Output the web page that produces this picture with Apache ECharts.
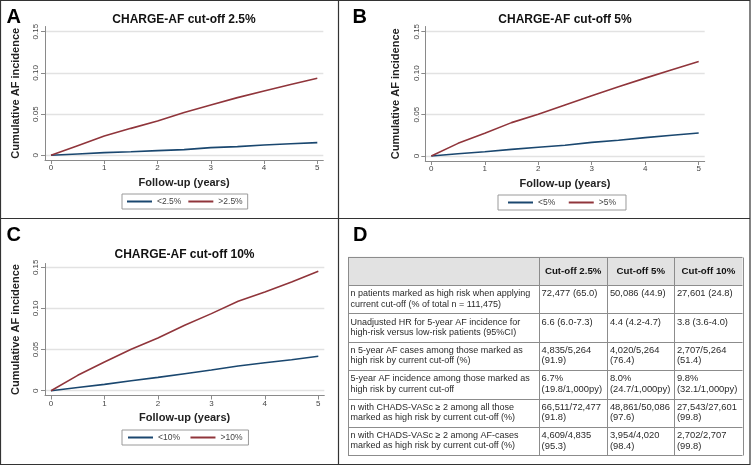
<!DOCTYPE html>
<html>
<head>
<meta charset="utf-8">
<script src="https://cdn.jsdelivr.net/npm/echarts@6/dist/echarts.min.js"></script>
<style>
html,body{margin:0;padding:0;background:#fff;}
#c{width:751px;height:467px;}
</style>
</head>
<body>
<div id="c"></div>
<script>
// ---------- DATA ----------
const followUp = [0, 0.5, 1, 1.5, 2, 2.5, 3, 3.5, 4, 4.5, 5];
const xTicks = [0, 1, 2, 3, 4, 5];
const yTicks = [0, 0.05, 0.10, 0.15];

const lowA  = [0, 0.0016, 0.0032, 0.0044, 0.0057, 0.0069, 0.0093, 0.0105, 0.0125, 0.0141, 0.0154];
const highA = [0, 0.0117, 0.0234, 0.0327, 0.0416, 0.0520, 0.0610, 0.0700, 0.0780, 0.0860, 0.0934];
const lowB  = [0, 0.0028, 0.0052, 0.0080, 0.0105, 0.0130, 0.0165, 0.0190, 0.0222, 0.0250, 0.0278];
const highB = [0, 0.0153, 0.0274, 0.0403, 0.0504, 0.0617, 0.0726, 0.0835, 0.0940, 0.1040, 0.1140];
const lowC  = [0, 0.0040, 0.0077, 0.0122, 0.0162, 0.0207, 0.0251, 0.0300, 0.0340, 0.0377, 0.0418];
const highC = [0, 0.0187, 0.0349, 0.0503, 0.0640, 0.0795, 0.0937, 0.1087, 0.1200, 0.1320, 0.1452];

const panelTitles = ['CHARGE-AF cut-off 2.5%', 'CHARGE-AF cut-off 5%', 'CHARGE-AF cut-off 10%'];
const lowNames  = ['<2.5%', '<5%', '<10%'];
const highNames = ['>2.5%', '>5%', '>10%'];
const panelLetters = ['A', 'B', 'C', 'D'];
const yTitle = 'Cumulative AF incidence';
const xTitle = 'Follow-up (years)';

const tableHeader = ['', 'Cut-off 2.5%', 'Cut-off 5%', 'Cut-off 10%'];
const rowLabels = [
  'n patients marked as high risk when applying\ncurrent cut-off (% of total n = 111,475)',
  'Unadjusted HR for 5-year AF incidence for\nhigh-risk versus low-risk patients (95%CI)',
  'n 5-year AF cases among those marked as\nhigh risk by current cut-off (%)',
  '5-year AF incidence among those marked as\nhigh risk by current cut-off',
  'n with CHADS-VASc \u2265 2 among all those\nmarked as high risk by current cut-off (%)',
  'n with CHADS-VASc \u2265 2 among AF-cases\nmarked as high risk by current cut-off (%)'
];
const colCut25 = ['72,477 (65.0)', '6.6 (6.0-7.3)', '4,835/5,264\n(91.9)', '6.7%\n(19.8/1,000py)', '66,511/72,477\n(91.8)', '4,609/4,835\n(95.3)'];
const colCut5  = ['50,086 (44.9)', '4.4 (4.2-4.7)', '4,020/5,264\n(76.4)', '8.0%\n(24.7/1,000py)', '48,861/50,086\n(97.6)', '3,954/4,020\n(98.4)'];
const colCut10 = ['27,601 (24.8)', '3.8 (3.6-4.0)', '2,707/5,264\n(51.4)', '9.8%\n(32.1/1,000py)', '27,543/27,601\n(99.8)', '2,702/2,707\n(99.8)'];

// ---------- LAYOUT ----------
const FONT = '"Liberation Sans", Arial, Helvetica, sans-serif';
const BLUE = '#1a476f', RED = '#90353b';
const grids = [
  {left: 45,    top: 26.5,  width: 278.3, height: 133.5, xmin: -0.1127, xmax: 5.1127, ymin: -0.0057, ymax: 0.1563},
  {left: 425.3, top: 26.5,  width: 279.4, height: 134.5, xmin: -0.1122, xmax: 5.1122, ymin: -0.0060, ymax: 0.1563},
  {left: 45,    top: 263.5, width: 279.3, height: 132,   xmin: -0.1122, xmax: 5.1122, ymin: -0.0058, ymax: 0.1546}
];
const legendPos = [
  {left: 122, top: 194, pad: 5, gap: 7},
  {left: 498, top: 195, pad: 10, gap: 13.5},
  {left: 122, top: 430, pad: 6, gap: 10.5}
];
const titlePos = [[184, 19.5], [565, 19.5], [184.5, 254.5]];
const letterPos = [[6.5, 17.5], [352.5, 17.5], [6.5, 235.5], [353, 235]];

const option = {
  animation: false,
  backgroundColor: '#fff',
  textStyle: {fontFamily: FONT},
  grid: [], xAxis: [], yAxis: [], series: [], legend: [], graphic: []
};

grids.forEach((g, i) => {
  option.grid.push({left: g.left, top: g.top, width: g.width, height: g.height, containLabel: false});
  option.xAxis.push({
    type: 'value', gridIndex: i, min: g.xmin, max: g.xmax,
    name: xTitle, nameLocation: 'middle', nameGap: 17,
    nameTextStyle: {fontSize: 11, fontWeight: 'bold', color: '#222', fontFamily: FONT, verticalAlign: 'top'},
    axisLine: {show: true, onZero: false, lineStyle: {color: '#8a8a8a', width: 1}},
    axisTick: {show: true, length: 4, customValues: xTicks, lineStyle: {color: '#8a8a8a'}},
    axisLabel: {show: true, customValues: xTicks, margin: 4, fontSize: 8, color: '#444', fontFamily: FONT},
    splitLine: {show: false}
  });
  option.yAxis.push({
    type: 'value', gridIndex: i, min: g.ymin, max: g.ymax,
    name: yTitle, nameLocation: 'middle', nameGap: 24, nameRotate: 90,
    nameTextStyle: {fontSize: 11, fontWeight: 'bold', color: '#222', fontFamily: FONT},
    axisLine: {show: true, onZero: false, lineStyle: {color: '#8a8a8a', width: 1}},
    axisTick: {show: true, length: 4, customValues: yTicks, lineStyle: {color: '#8a8a8a'}},
    axisLabel: {show: true, customValues: yTicks, rotate: 90, margin: 5, fontSize: 8, color: '#444', fontFamily: FONT,
      formatter: v => (Math.abs(v) < 1e-9 ? '0' : v.toFixed(2))},
    splitLine: {show: true, lineStyle: {color: '#e2e2e2', width: 1.4}}
  });
});

const lows = [lowA, lowB, lowC], highs = [highA, highB, highC];
for (let i = 0; i < 3; i++) {
  option.series.push({
    name: lowNames[i], type: 'line', xAxisIndex: i, yAxisIndex: i, symbol: 'none',
    lineStyle: {color: BLUE, width: 1.6}, itemStyle: {color: BLUE},
    data: followUp.map((x, k) => [x, lows[i][k]])
  });
  option.series.push({
    name: highNames[i], type: 'line', xAxisIndex: i, yAxisIndex: i, symbol: 'none',
    lineStyle: {color: RED, width: 1.6}, itemStyle: {color: RED},
    data: followUp.map((x, k) => [x, highs[i][k]])
  });
  const lp = legendPos[i];
  option.legend.push({
    data: [lowNames[i], highNames[i]], left: lp.left, top: lp.top, orient: 'horizontal',
    icon: 'rect', itemWidth: 25, itemHeight: 2, itemGap: lp.gap,
    padding: [3, lp.pad, 3, lp.pad], borderColor: '#9a9a9a', borderWidth: 1, borderRadius: 0,
    selectedMode: false,
    textStyle: {fontSize: 8.5, color: '#444', fontFamily: FONT}
  });
  option.graphic.push({
    type: 'text', x: titlePos[i][0], y: titlePos[i][1],
    style: {text: panelTitles[i], fill: '#111', font: 'bold 12px ' + FONT,
      align: 'center', verticalAlign: 'middle', textAlign: 'center', textVerticalAlign: 'middle'}
  });
}

// panel letters
panelLetters.forEach((L, i) => {
  option.graphic.push({
    type: 'text', x: letterPos[i][0], y: letterPos[i][1],
    style: {text: L, fill: '#000', font: 'bold 20px ' + FONT,
      align: 'left', verticalAlign: 'middle', textAlign: 'left', textVerticalAlign: 'middle'}
  });
});

// figure frame & dividers
const frameColor = '#333';
option.graphic.push(
  {type: 'rect', shape: {x: 0.5, y: 0.5, width: 749.5, height: 464}, style: {fill: null, stroke: frameColor, lineWidth: 1.2}, z: 100},
  {type: 'line', shape: {x1: 338.5, y1: 0, x2: 338.5, y2: 465}, style: {stroke: frameColor, lineWidth: 1.2}, z: 100},
  {type: 'line', shape: {x1: 0, y1: 218.5, x2: 750, y2: 218.5}, style: {stroke: frameColor, lineWidth: 1.2}, z: 100}
);

// ---------- TABLE (panel D) ----------
const tLeft = 348, tRight = 742.5, tTop = 256.7, tBottom = 455.3;
const colX = [tLeft, 539, 607.3, 674.3, tRight];
const nRows = rowLabels.length + 1;
const rowH = (tBottom - tTop) / nRows;
const lineC = '#8c8c8c';
option.graphic.push({type: 'rect', shape: {x: tLeft, y: tTop, width: tRight - tLeft, height: rowH},
  style: {fill: '#e2e2e2', stroke: null}, z: 10});
for (let r = 0; r <= nRows; r++) {
  const y = Math.round(tTop + r * rowH) + 0.5;
  option.graphic.push({type: 'line', shape: {x1: tLeft, y1: y, x2: tRight, y2: y}, style: {stroke: lineC, lineWidth: 1}, z: 11});
}
colX.forEach(x => {
  const xx = Math.round(x) + 0.5;
  option.graphic.push({type: 'line', shape: {x1: xx, y1: Math.round(tTop) + 0.5, x2: xx, y2: Math.round(tBottom) + 0.5},
    style: {stroke: lineC, lineWidth: 1}, z: 11});
});
tableHeader.forEach((h, c) => {
  if (!h) return;
  option.graphic.push({type: 'text', x: (colX[c] + colX[c + 1]) / 2, y: tTop + rowH / 2 + 0.5,
    style: {text: h, fill: '#111', font: 'bold 9.7px ' + FONT,
      align: 'center', verticalAlign: 'middle', textAlign: 'center', textVerticalAlign: 'middle'}, z: 12});
});
const cols = [rowLabels, colCut25, colCut5, colCut10];
for (let r = 0; r < rowLabels.length; r++) {
  const top = tTop + (r + 1) * rowH;
  cols.forEach((col, c) => {
    const fs = c === 0 ? 9.0 : 9.4;
    option.graphic.push({type: 'text', x: colX[c] + 2.6, y: top + 3.4,
      style: {text: col[r], fill: '#2a2a2a', font: fs + 'px ' + FONT, lineHeight: 10.4,
        align: 'left', verticalAlign: 'top', textAlign: 'left', textVerticalAlign: 'top'}, z: 12});
  });
}

const chart = echarts.init(document.getElementById('c'), null, {renderer: 'canvas'});
chart.setOption(option);
</script>
</body>
</html>
